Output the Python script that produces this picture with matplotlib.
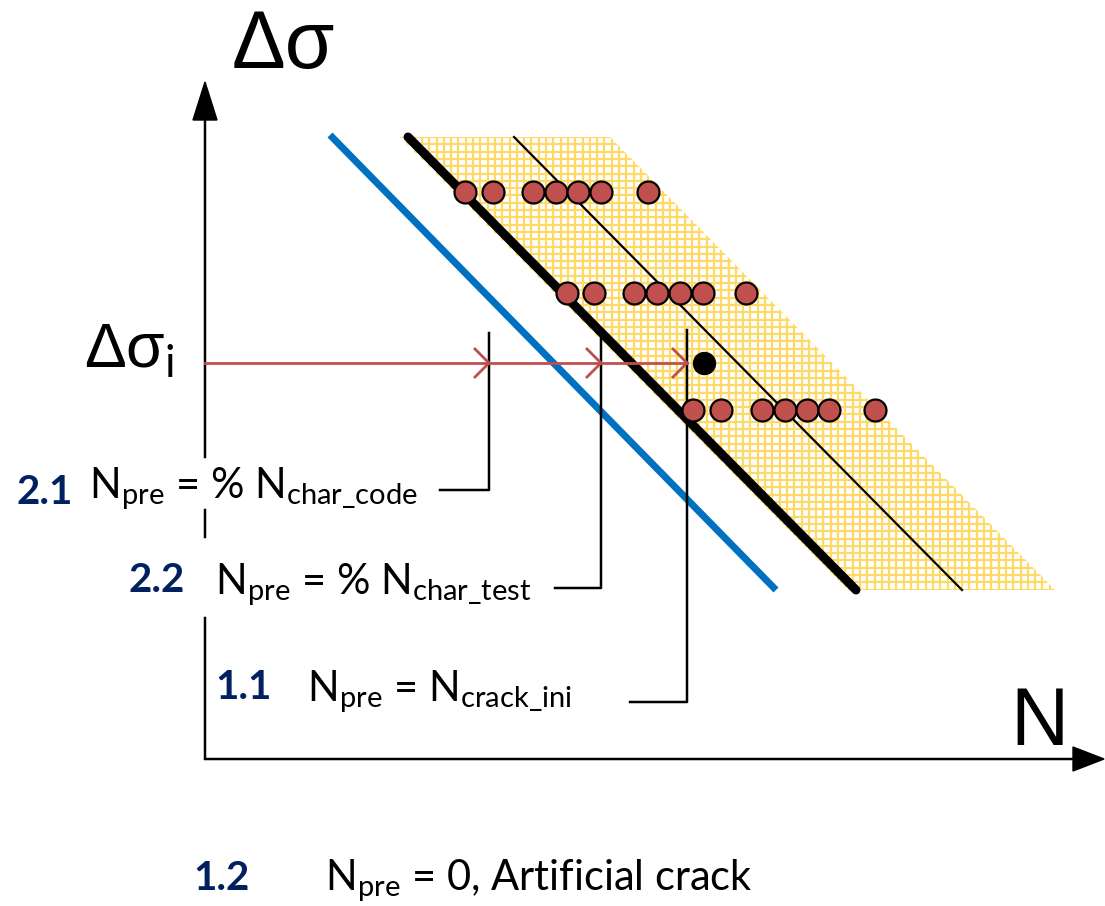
import numpy as np
import matplotlib.pyplot as plt
from matplotlib.patches import Polygon

plt.rcParams['mathtext.fontset'] = 'custom'
plt.rcParams['mathtext.rm'] = 'Lato'
plt.rcParams['mathtext.bf'] = 'Lato:bold'

# S-N sketch in canvas units (x to the right, y downward)
scatter_band = [(400, 137), (610, 137), (1055, 590), (848, 590)]
design_curve = ([330, 776], [135, 590])
char_curve = ([408, 856], [137, 590])
mean_curve = ([514, 962], [137, 590])

row_levels = [192, 293, 410]
row_cycles = [
    [465, 493, 533, 556, 578, 601, 648],
    [567, 594, 634, 657, 680, 703, 746],
    [693, 721, 762, 785, 807, 829, 875],
]
test_point = (704, 363)

stress_level = 363
stop_cycles = [489, 601, 687]
stop_tops = [333, 330, 330]
leader_ends = [(440, 490), (555, 588), (630, 702)]

y_axis_pieces = [(757, 618), (537, 510), (457, 120)]

case_ids = ['2.1', '2.2', '1.1', '1.2']
case_id_pos = [(17, 504), (128, 592), (215, 699), (193, 890)]
case_texts = [
    r'N$_{\mathrm{pre}}$ = % N$_{\mathrm{char\_code}}$',
    r'N$_{\mathrm{pre}}$ = % N$_{\mathrm{char\_test}}$',
    r'N$_{\mathrm{pre}}$ = N$_{\mathrm{crack\_ini}}$',
    r'N$_{\mathrm{pre}}$ = 0, Artificial crack',
]
case_text_pos = [(89, 498), (215, 594), (307, 701), (325, 890)]

PX = 0.72  # points per pixel at dpi 100
red = '#C0504D'

fig = plt.figure(figsize=(11.05, 9.06), dpi=100)
ax = fig.add_axes([0, 0, 1, 1])
ax.set_xlim(0, 1105)
ax.set_ylim(906, 0)
ax.axis('off')

# hatched scatter band
band = Polygon(scatter_band, closed=True, facecolor='white', edgecolor='none', zorder=1)
ax.add_patch(band)
step = 7.3
for gx in np.arange(scatter_band[0][0], scatter_band[2][0] + step, step):
    ln = ax.plot([gx, gx], [130, 600], color='#FFD966', lw=2.2 * PX, zorder=2)[0]
    ln.set_clip_path(band)
for gy in np.arange(scatter_band[0][1], scatter_band[2][1] + step, step):
    ln = ax.plot([390, 1065], [gy, gy], color='#FFD966', lw=2.2 * PX, zorder=2)[0]
    ln.set_clip_path(band)

# curves
ax.plot(*design_curve, color='#0070C0', lw=7 * PX, solid_capstyle='butt', zorder=3)
ax.plot(*char_curve, color='black', lw=9 * PX, solid_capstyle='round', zorder=3)
ax.plot(*mean_curve, color='black', lw=2.2 * PX, zorder=3)

# test results
for lvl, xs in zip(row_levels, row_cycles):
    ax.scatter(xs, [lvl] * len(xs), s=250, facecolor=red, edgecolor='black',
               linewidths=2.2 * PX, zorder=5)
ax.scatter([test_point[0]], [test_point[1]], s=250, color='black', zorder=5)

# axes with arrow heads
for y0, y1 in y_axis_pieces:
    ax.plot([205, 205], [y0, y1], color='black', lw=2.5 * PX, zorder=4)
ax.add_patch(Polygon([(193, 120), (217, 120), (205, 82)], closed=True,
                     color='black', zorder=4))
ax.plot([205, 1074], [759, 759], color='black', lw=2.5 * PX, zorder=4)
ax.add_patch(Polygon([(1073, 747), (1073, 771), (1104, 759)], closed=True,
                     color='black', zorder=4))

# pre-cracking stops and leaders
for xs, top, (xe, ye) in zip(stop_cycles, stop_tops, leader_ends):
    ax.plot([xs, xs, xe], [top, ye, ye], color='black', lw=2.5 * PX, zorder=4)

ax.plot([205, stop_cycles[-1]], [stress_level, stress_level], color=red,
        lw=2.8 * PX, zorder=6)
for xs in stop_cycles:
    ax.plot([xs - 14, xs, xs - 14], [stress_level - 14, stress_level, stress_level + 14],
            color=red, lw=2.8 * PX, zorder=6)

# axis titles
ax.text(232, 68, 'Δσ', fontsize=58, family='Liberation Sans', ha='left', va='baseline')
ax.text(1010, 745, 'N', fontsize=58, family='Liberation Sans', ha='left', va='baseline')
ax.text(84, 368, r'Δσ$_{\mathrm{i}}$', fontsize=45, family='Liberation Sans',
        ha='left', va='baseline')

for cid, (cx, cy), txt, (tx, ty) in zip(case_ids, case_id_pos, case_texts, case_text_pos):
    ax.text(cx, cy, cid, fontsize=29, family='Lato', weight='bold', color='#002060',
            ha='left', va='baseline')
    ax.text(tx, ty, txt, fontsize=30, family='Lato', color='black',
            ha='left', va='baseline')

fig.savefig('out.png', dpi=100)
